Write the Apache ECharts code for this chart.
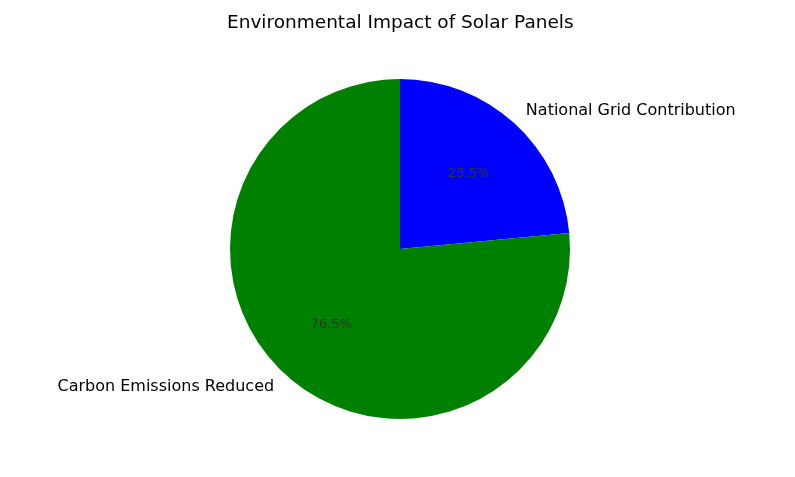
<!DOCTYPE html>
<html><head><meta charset="utf-8">
<script src="https://cdn.jsdelivr.net/npm/echarts@6/dist/echarts.min.js"></script>
<style>html,body{margin:0;padding:0;background:#fff}#c{width:795px;height:477px}</style>
</head><body><div id="c"></div>
<script>
const categories = ["National Grid Contribution", "Carbon Emissions Reduced"];
const values = [23.5, 76.5];
const colors = ["#0000ff", "#008000"];
const aligns = ["left", "right"];

const chart = echarts.init(document.getElementById('c'), null, {renderer: 'canvas'});
const font = "DejaVu Sans";
chart.setOption({
  animation: false,
  title: {
    text: "Environmental Impact of Solar Panels",
    left: 222, top: 9,
    textStyle: {fontFamily: font, fontSize: 18.5, fontWeight: 'normal', color: '#000'}
  },
  series: [
    {
      type: 'pie', center: [400, 249], radius: [0, 170],
      startAngle: 90, clockwise: true, silent: true,
      data: categories.map((n, i) => ({name: n, value: values[i], itemStyle: {color: colors[i]},
        label: {align: aligns[i]}})),
      label: {show: true, position: 'outside', formatter: '{b}', fontFamily: font, fontSize: 16,
        color: '#000', distanceToLabelLine: 0},
      labelLine: {show: false, length: 17, length2: 0},
      avoidLabelOverlap: false
    },
    {
      type: 'pie', center: [400, 249], radius: [28, 170],
      startAngle: 90, clockwise: true, silent: true,
      data: categories.map((n, i) => ({name: n, value: values[i], itemStyle: {color: 'rgba(0,0,0,0)'}})),
      label: {show: true, position: 'inside', formatter: p => p.value.toFixed(1) + '%',
        fontFamily: font, fontSize: 13, color: '#333'},
      labelLine: {show: false}
    }
  ]
});
</script></body></html>
